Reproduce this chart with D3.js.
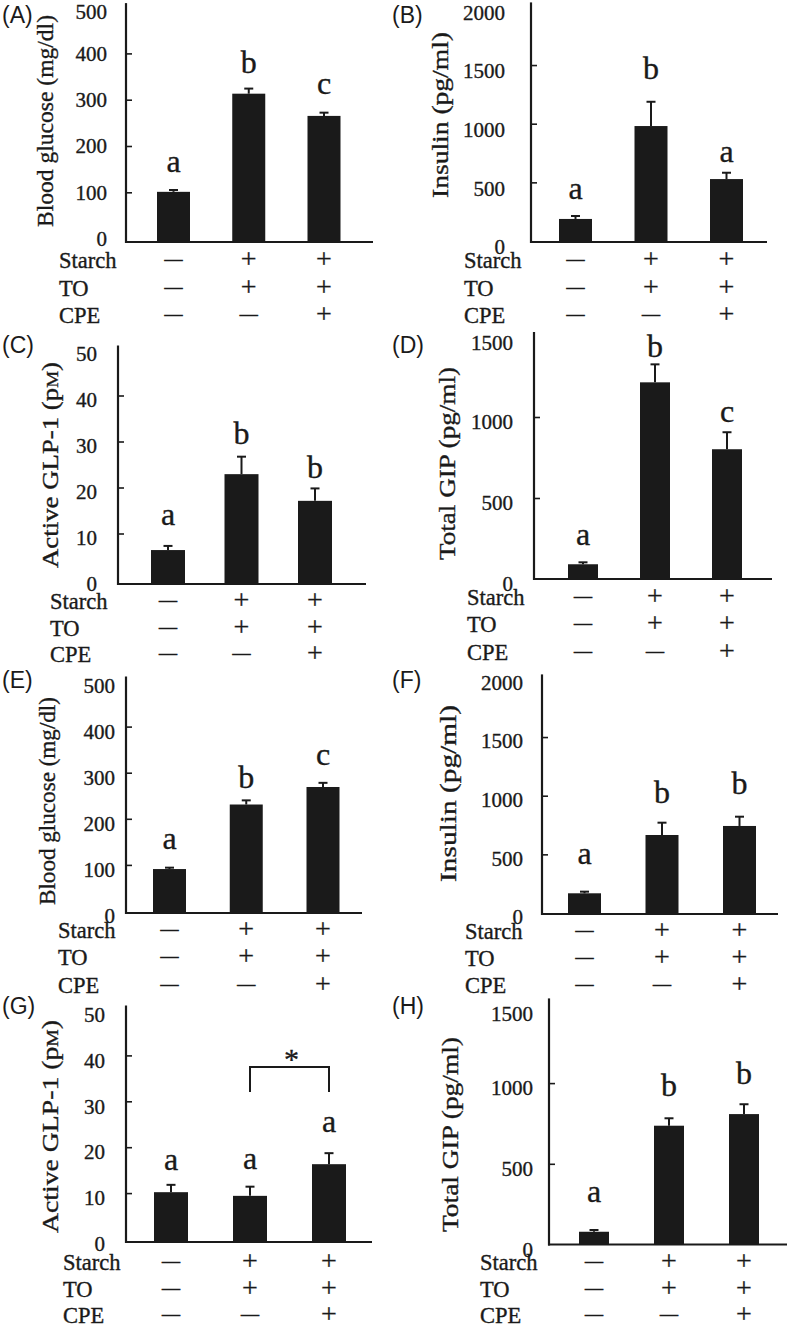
<!DOCTYPE html>
<html>
<head>
<meta charset="utf-8">
<script src="https://cdnjs.cloudflare.com/ajax/libs/d3/7.8.5/d3.min.js"></script>
<style>
  html, body { margin: 0; padding: 0; background: #ffffff; }
  svg { display: block; }
</style>
</head>
<body>
<script>
// ---------------- DATA ----------------
const groups = ["G1", "G2", "G3"];
const rowLabels = ["Starch", "TO", "CPE"];
const rowSymbols = [["—", "+", "+"], ["—", "+", "+"], ["—", "—", "+"]];

const panelIds = ["(A)", "(B)", "(C)", "(D)", "(E)", "(F)", "(G)", "(H)"];
const yTitles = ["Blood glucose (mg/dl)", "Insulin (pg/ml)", "Active GLP-1 (pM)", "Total GIP (pg/ml)",
                 "Blood glucose (mg/dl)", "Insulin (pg/ml)", "Active GLP-1 (pM)", "Total GIP (pg/ml)"];
const yMax = [500, 2000, 50, 1500, 500, 2000, 50, 1500];

const ticksGlucose = [0, 100, 200, 300, 400, 500];
const ticksInsulin = [0, 500, 1000, 1500, 2000];
const ticksGLP1 = [0, 10, 20, 30, 40, 50];
const ticksGIP = [0, 500, 1000, 1500];

const meansA = [101, 313, 265], semA = [4, 11, 7], lettersA = ["a", "b", "c"];
const meansB = [188, 980, 528], semB = [25, 207, 54], lettersB = ["a", "b", "a"];
const meansC = [6.4, 22.9, 17.1], semC = [0.9, 3.8, 2.7], lettersC = ["a", "b", "b"];
const meansD = [91, 1214, 801], semD = [12, 111, 105], lettersD = ["a", "b", "c"];
const meansE = [91, 231, 269], semE = [3, 9, 9], lettersE = ["a", "b", "c"];
const meansF = [168, 665, 742], semF = [14, 105, 79], lettersF = ["a", "b", "b"];
const meansG = [10.2, 9.4, 16.3], semG = [1.6, 2.0, 2.4], lettersG = ["a", "a", "a"];
const meansH = [79, 736, 808], semH = [11, 46, 61], lettersH = ["a", "b", "b"];

// significance bracket in panel G (between groups 2 and 3), in axis units
const bracketG = { from: "G2", to: "G3", level: 37.5, leg: 32, label: "*" };

const panelData = [
  { means: meansA, sem: semA, letters: lettersA, ticks: ticksGlucose },
  { means: meansB, sem: semB, letters: lettersB, ticks: ticksInsulin },
  { means: meansC, sem: semC, letters: lettersC, ticks: ticksGLP1 },
  { means: meansD, sem: semD, letters: lettersD, ticks: ticksGIP },
  { means: meansE, sem: semE, letters: lettersE, ticks: ticksGlucose },
  { means: meansF, sem: semF, letters: lettersF, ticks: ticksInsulin },
  { means: meansG, sem: semG, letters: lettersG, ticks: ticksGLP1, bracket: bracketG },
  { means: meansH, sem: semH, letters: lettersH, ticks: ticksGIP }
];

// ---------------- LAYOUT ----------------
const layout = [
  { ax: 126, zero: 238.6, top: 7.1, base: 242, xEnd: 373, c1: 173.5, c3: 324, bw: 33, lp: 19, tdy: 0, topDy: 5,
    tx: 53, ty: 121, tl: 212, px: 2, py: 23, rx: 59, rows: [268, 296, 323], gaps: [18, 16, 19] },
  { ax: 531, zero: 241, top: 6.4, base: 242, xEnd: 767, c1: 575.5, c3: 726.5, bw: 33, lp: 26, tdy: 6, topDy: 0,
    tx: 448, ty: 115, tl: 166, px: 392, py: 23, rx: 464, rows: [268, 296, 323], gaps: [17, 23, 11] },
  { ax: 118, zero: 579.5, top: 349.5, base: 584, xEnd: 366, c1: 168, c3: 315, bw: 34, lp: 21, tdy: 4, topDy: 0,
    tx: 58, ty: 465, tl: 206, px: 2, py: 353, rx: 50, rows: [609, 636, 662], gaps: [21, 13, 10] },
  { ax: 534, zero: 579, top: 336, base: 579, xEnd: 772, c1: 583, c3: 727, bw: 30, lp: 21, tdy: 5, topDy: 2,
    tx: 455, ty: 463.5, tl: 193, px: 392, py: 353, rx: 467, rows: [605, 632, 660], gaps: [17, 7, 10] },
  { ax: 126, zero: 911, top: 680.5, base: 913, xEnd: 362, c1: 169.5, c3: 323, bw: 33, lp: 11, tdy: 5, topDy: 0,
    tx: 55, ty: 801, tl: 208, px: 2, py: 688, rx: 58, rows: [938, 965, 993], gaps: [19, 12, 18] },
  { ax: 542, zero: 913, top: 678.4, base: 914, xEnd: 778, c1: 584.5, c3: 739.5, bw: 33, lp: 19, tdy: 4, topDy: 0,
    tx: 456, ty: 793.5, tl: 177, px: 392, py: 688, rx: 465, rows: [939, 966, 993], gaps: [28, 20, 23] },
  { ax: 126, zero: 1239, top: 1009.5, base: 1242, xEnd: 372, c1: 171, c3: 329, bw: 34, lp: 21, tdy: 5, topDy: 0,
    tx: 58, ty: 1126.5, tl: 213, px: 2, py: 1014, rx: 63, rows: [1270, 1297, 1323], gaps: [15, 18, 21] },
  { ax: 549, zero: 1244.5, top: 1002.4, base: 1244.5, xEnd: 787, c1: 594, c3: 744, bw: 30, lp: 16, tdy: 5, topDy: 6,
    tx: 458, ty: 1134.5, tl: 195, px: 392, py: 1014, rx: 480, rows: [1270, 1297, 1323], gaps: [28, 22, 20] }
];

const INK = "#1a1a1a";
const SERIF = "'Liberation Serif', 'Times New Roman', Times, serif";
const SANS = "'Liberation Sans', Arial, Helvetica, sans-serif";
const TEXT_STROKE = 0.35;

const svg = d3.select("body").append("svg")
  .attr("width", 787).attr("height", 1328)
  .attr("viewBox", "0 0 787 1328");

svg.append("rect").attr("width", 787).attr("height", 1328).attr("fill", "#fff");

function inked(sel) {
  return sel.attr("fill", INK).attr("stroke", INK).attr("stroke-width", TEXT_STROKE);
}

function drawPanel(i) {
  const d = panelData[i], L = layout[i];
  const g = svg.append("g").attr("class", "panel");
  const x = d3.scalePoint().domain(groups).range([L.c1, L.c3]);
  const y = d3.scaleLinear().domain([0, yMax[i]]).range([L.zero, L.top]);

  const rows = d.means.map((v, k) => ({ grp: groups[k], v: v, e: d.sem[k], letter: d.letters[k], gap: L.gaps[k] }));

  // error bars (drawn first, bars cover their lower part)
  g.selectAll("line.err").data(rows).join("line")
    .attr("x1", r => x(r.grp)).attr("x2", r => x(r.grp))
    .attr("y1", r => y(r.v)).attr("y2", r => y(r.v + r.e))
    .attr("stroke", INK).attr("stroke-width", 2);
  g.selectAll("line.cap").data(rows).join("line")
    .attr("x1", r => x(r.grp) - 4.5).attr("x2", r => x(r.grp) + 4.5)
    .attr("y1", r => y(r.v + r.e)).attr("y2", r => y(r.v + r.e))
    .attr("stroke", INK).attr("stroke-width", 2);

  // bars
  g.selectAll("rect.bar").data(rows).join("rect")
    .attr("x", r => x(r.grp) - L.bw / 2)
    .attr("y", r => y(r.v))
    .attr("width", L.bw)
    .attr("height", r => L.base - y(r.v))
    .attr("fill", INK);

  // y axis
  const axis = d3.axisLeft(y)
    .tickValues(d.ticks)
    .tickSizeInner(-6)
    .tickSizeOuter(0)
    .tickPadding(L.lp)
    .tickFormat(d3.format("d"));
  const ag = g.append("g").attr("transform", `translate(${L.ax},0)`).call(axis);
  ag.attr("font-family", null).attr("font-size", null);
  ag.select(".domain").remove();
  ag.selectAll(".tick line")
    .attr("stroke", INK).attr("stroke-width", 1.6)
    .attr("opacity", t => (t === 0 || t === yMax[i]) ? 0 : 1);
  inked(ag.selectAll(".tick text"))
    .attr("font-family", SERIF)
    .attr("font-size", 21)
    .attr("y", t => L.tdy + (t === yMax[i] ? L.topDy : 0));

  // axis lines
  g.append("line")
    .attr("x1", L.ax).attr("x2", L.ax)
    .attr("y1", L.top - 4).attr("y2", L.base + 1)
    .attr("stroke", INK).attr("stroke-width", 2.2);
  g.append("line")
    .attr("x1", L.ax - 1).attr("x2", L.xEnd)
    .attr("y1", L.base).attr("y2", L.base)
    .attr("stroke", INK).attr("stroke-width", 2.2);

  // significance letters
  inked(g.selectAll("text.letter").data(rows).join("text"))
    .attr("x", r => x(r.grp))
    .attr("y", r => y(r.v + r.e) - r.gap)
    .attr("text-anchor", "middle")
    .attr("font-family", SERIF)
    .attr("font-size", 32)
    .text(r => r.letter);

  // bracket
  if (d.bracket) {
    const b = d.bracket;
    const p = d3.path();
    p.moveTo(x(b.from), y(b.leg));
    p.lineTo(x(b.from), y(b.level));
    p.lineTo(x(b.to), y(b.level));
    p.lineTo(x(b.to), y(b.leg));
    g.append("path").attr("d", p.toString())
      .attr("fill", "none").attr("stroke", INK).attr("stroke-width", 2);
    inked(g.append("text"))
      .attr("x", (x(b.from) + x(b.to)) / 2 + 2)
      .attr("y", y(b.level) + 2)
      .attr("text-anchor", "middle")
      .attr("font-family", SERIF)
      .attr("font-size", 30)
      .text(b.label);
  }

  // y title
  const tt = inked(g.append("text"))
    .attr("transform", `translate(${L.tx},${L.ty}) rotate(-90)`)
    .attr("text-anchor", "middle")
    .attr("font-family", SERIF)
    .attr("font-size", 24)
    .attr("textLength", L.tl)
    .attr("lengthAdjust", "spacingAndGlyphs");
  const title = yTitles[i];
  if (title.indexOf("(pM)") >= 0) {
    tt.append("tspan").text(title.replace("M)", ""));
    tt.append("tspan").attr("font-size", 17).text("M");
    tt.append("tspan").text(")");
  } else {
    tt.text(title);
  }

  // panel id
  g.append("text")
    .attr("x", L.px).attr("y", L.py)
    .attr("font-family", SANS)
    .attr("font-size", 23)
    .attr("fill", INK)
    .text(panelIds[i]);

  // treatment rows
  rowLabels.forEach((lab, r) => {
    inked(g.append("text"))
      .attr("x", L.rx).attr("y", L.rows[r])
      .attr("font-family", SERIF)
      .attr("font-size", 22.5)
      .text(lab);
    g.selectAll(null).data(rowSymbols[r].map((s, k) => ({ s: s, grp: groups[k] }))).join("text")
      .attr("x", o => x(o.grp))
      .attr("y", o => o.s === "+" ? L.rows[r] : L.rows[r] - 3)
      .attr("text-anchor", "middle")
      .attr("font-family", SERIF)
      .attr("font-size", o => o.s === "+" ? 28 : 18)
      .attr("fill", INK)
      .attr("stroke", INK)
      .attr("stroke-width", o => o.s === "+" ? 0.3 : 0.6)
      .text(o => o.s);
  });
}

for (let i = 0; i < panelIds.length; i++) drawPanel(i);
</script>
</body>
</html>
